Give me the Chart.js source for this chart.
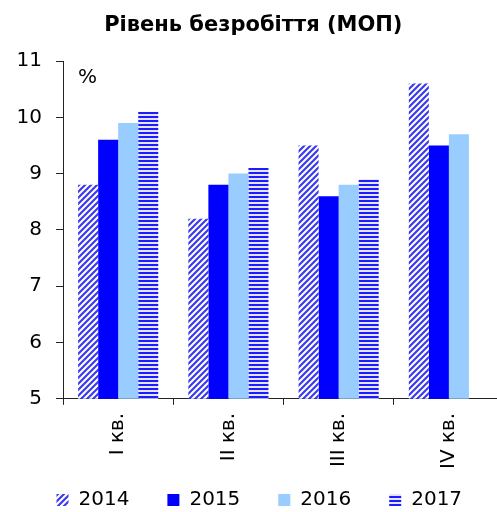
<!DOCTYPE html>
<html>
<head>
<meta charset="utf-8">
<script src="https://cdn.jsdelivr.net/npm/chart.js"></script>
<style>
  html, body { margin: 0; padding: 0; background: #fff; overflow: hidden; }
  #wrap { width: 497px; height: 512px; overflow: hidden; }
</style>
</head>
<body>
<div id="wrap"><canvas id="myChart" width="504" height="512"></canvas></div>
<script>
// Data
const quarters = ["I кв.", "II кв.", "III кв.", "IV кв."];
const years = ["2014", "2015", "2016", "2017"];
const values2014 = [8.8, 8.2, 9.5, 10.6];
const values2015 = [9.6, 8.8, 8.6, 9.5];
const values2016 = [9.9, 9.0, 8.8, 9.7];
const values2017 = [10.1, 9.1, 8.9, null];
const yTicks = [5, 6, 7, 8, 9, 10, 11];

const FONT = "'DejaVu Sans'";
const LEGEND_BAND = 35; // space the layout keeps for the legend
const LEGEND_TOP = 452; // where the legend row is drawn
const LEGEND_SHIFT = 6; // legend sits a little right of centre

// Diagonal hatch (2014)
function diagonalPattern() {
  const c = document.createElement("canvas");
  c.width = 6;
  c.height = 6;
  const g = c.getContext("2d");
  g.fillStyle = "#ffffff";
  g.fillRect(0, 0, 6, 6);
  g.strokeStyle = "#3a3af0";
  g.lineWidth = 2.2;
  g.beginPath();
  g.moveTo(-1, 7);
  g.lineTo(7, -1);
  g.moveTo(-4, 4);
  g.lineTo(4, -4);
  g.moveTo(2, 10);
  g.lineTo(10, 2);
  g.stroke();
  return g.createPattern(c, "repeat");
}

// Horizontal stripes (2017)
function horizontalPattern() {
  const c = document.createElement("canvas");
  c.width = 4;
  c.height = 4;
  const g = c.getContext("2d");
  g.fillStyle = "#e4e4ff";
  g.fillRect(0, 0, 4, 4);
  g.fillStyle = "#1c1cff";
  g.fillRect(0, 0, 4, 2);
  return g.createPattern(c, "repeat");
}

// "%" unit label in the top left of the plot
const unitLabel = {
  id: "unitLabel",
  afterDraw(chart) {
    const ctx = chart.ctx;
    ctx.save();
    ctx.fillStyle = "#000";
    ctx.font = "20px " + FONT;
    ctx.textBaseline = "middle";
    ctx.fillText("%", chart.chartArea.left + 15, chart.chartArea.top + 17);
    ctx.restore();
  },
};

// Keep wide gaps between legend items without giving the legend a tall band
const legendPlacement = {
  id: "legendPlacement",
  beforeLayout(chart) {
    const lg = chart.legend;
    if (lg && !lg._wrappedFit) {
      const fit = lg.fit.bind(lg);
      lg.fit = function () {
        fit();
        this.height = LEGEND_BAND;
      };
      lg._wrappedFit = true;
    }
  },
  afterLayout(chart) {
    const lg = chart.legend;
    if (!lg) return;
    lg.top = LEGEND_TOP;
    lg.left += LEGEND_SHIFT;
    lg.right += LEGEND_SHIFT;
  },
};

const ctx = document.getElementById("myChart");
const allValues = [values2014, values2015, values2016, values2017];
const fills = [diagonalPattern(), "#0000ff", "#99ccff", horizontalPattern()];

new Chart(ctx, {
  type: "bar",
  data: {
    labels: quarters,
    datasets: years.map((y, i) => ({
      label: y,
      data: allValues[i],
      backgroundColor: fills[i],
      borderWidth: 0,
      categoryPercentage: 0.727,
      barPercentage: 1.0,
    })),
  },
  options: {
    responsive: false,
    animation: false,
    layout: { padding: { left: 2.6, right: 0, top: 0, bottom: 0 } },
    plugins: {
      title: {
        display: true,
        text: "Рівень безробіття (МОП)",
        color: "#000",
        font: { family: FONT, size: 21, weight: "bold" },
        padding: { top: 13, bottom: 22.8 },
      },
      legend: {
        position: "bottom",
        labels: {
          color: "#000",
          font: { family: FONT, size: 20 },
          boxWidth: 12,
          boxHeight: 12,
          padding: 38,
        },
      },
      tooltip: { enabled: false },
    },
    scales: {
      x: {
        border: { color: "#222", width: 1 },
        grid: { drawOnChartArea: false, color: "#222", tickLength: 6, offset: true },
        ticks: {
          color: "#000",
          font: { family: FONT, size: 20 },
          maxRotation: 90,
          minRotation: 90,
          padding: 8,
        },
      },
      y: {
        min: 5,
        max: 11,
        afterBuildTicks: (axis) => {
          axis.ticks = yTicks.map((v) => ({ value: v }));
        },
        border: { color: "#222", width: 1 },
        grid: { drawOnChartArea: false, color: "#222", tickLength: 7 },
        ticks: {
          color: "#000",
          font: { family: FONT, size: 20 },
          padding: 14,
        },
      },
    },
  },
  plugins: [unitLabel, legendPlacement],
});
</script>
</body>
</html>
